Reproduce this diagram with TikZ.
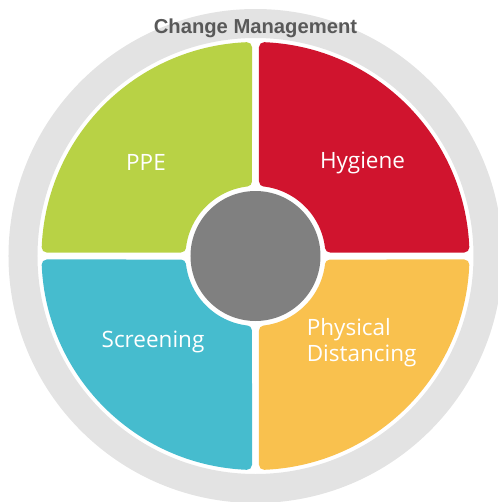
\documentclass[tikz,border=0pt]{standalone}
\usepackage{fontspec}
\setmainfont{Open Sans}
\newfontfamily\headfont{Liberation Sans}

\definecolor{ringgray}{RGB}{227,227,227}
\definecolor{hubgray}{RGB}{128,128,128}
\definecolor{headgray}{RGB}{89,89,89}
\definecolor{ppegreen}{RGB}{184,210,69}
\definecolor{hygred}{RGB}{208,20,46}
\definecolor{screencyan}{RGB}{70,188,206}
\definecolor{distorange}{RGB}{249,193,78}

\begin{document}
\begin{tikzpicture}[
    ring/.style={fill=ringgray, even odd rule},
    quadrant/.style={fill=#1, draw=#1, line width=0.2cm, line join=round},
    hub/.style={circle, fill=hubgray, minimum size=2.6cm, inner sep=0pt},
    quadtext/.style={text=white, inner sep=0pt, font=\fontsize{12.8}{14.8}\selectfont},
    headtext/.style={text=headgray, inner sep=0pt, font=\headfont\bfseries\fontsize{11.5}{13}\selectfont}]
    \useasboundingbox (-5.11,-4.92) rectangle (4.85,5.12);
    % grey band round the wheel
    \path[ring] (0,0) circle[radius=4.94] (0,0) circle[radius=4.36];
    % the four sectors, drawn shrunk and stroked back out for round corners
    \foreach \rot/\col in {0/hygred, 90/ppegreen, 180/screencyan, 270/distorange}
      \path[quadrant=\col, rotate=\rot] (83.49:1.50) -- (87.67:4.18)
        arc[start angle=87.67, end angle=2.33, radius=4.18] -- (6.51:1.50)
        arc[start angle=6.51, end angle=83.49, radius=1.50] -- cycle;
    \node[hub] (hub) at (0,0) {};
    \node[headtext, anchor=base] (title) at (0,4.46) {Change Management};
    \node[quadtext, anchor=base] (ppe) at (-2.19,1.72) {PPE};
    \node[quadtext, anchor=base] (hygiene) at (2.14,1.76) {Hygiene};
    \node[quadtext, anchor=base] (screening) at (-2.05,-1.82) {Screening};
    \node[quadtext, anchor=base west, align=left] (distancing) at (1.02,-2.11) {Physical\\Distancing};
\end{tikzpicture}
\end{document}
